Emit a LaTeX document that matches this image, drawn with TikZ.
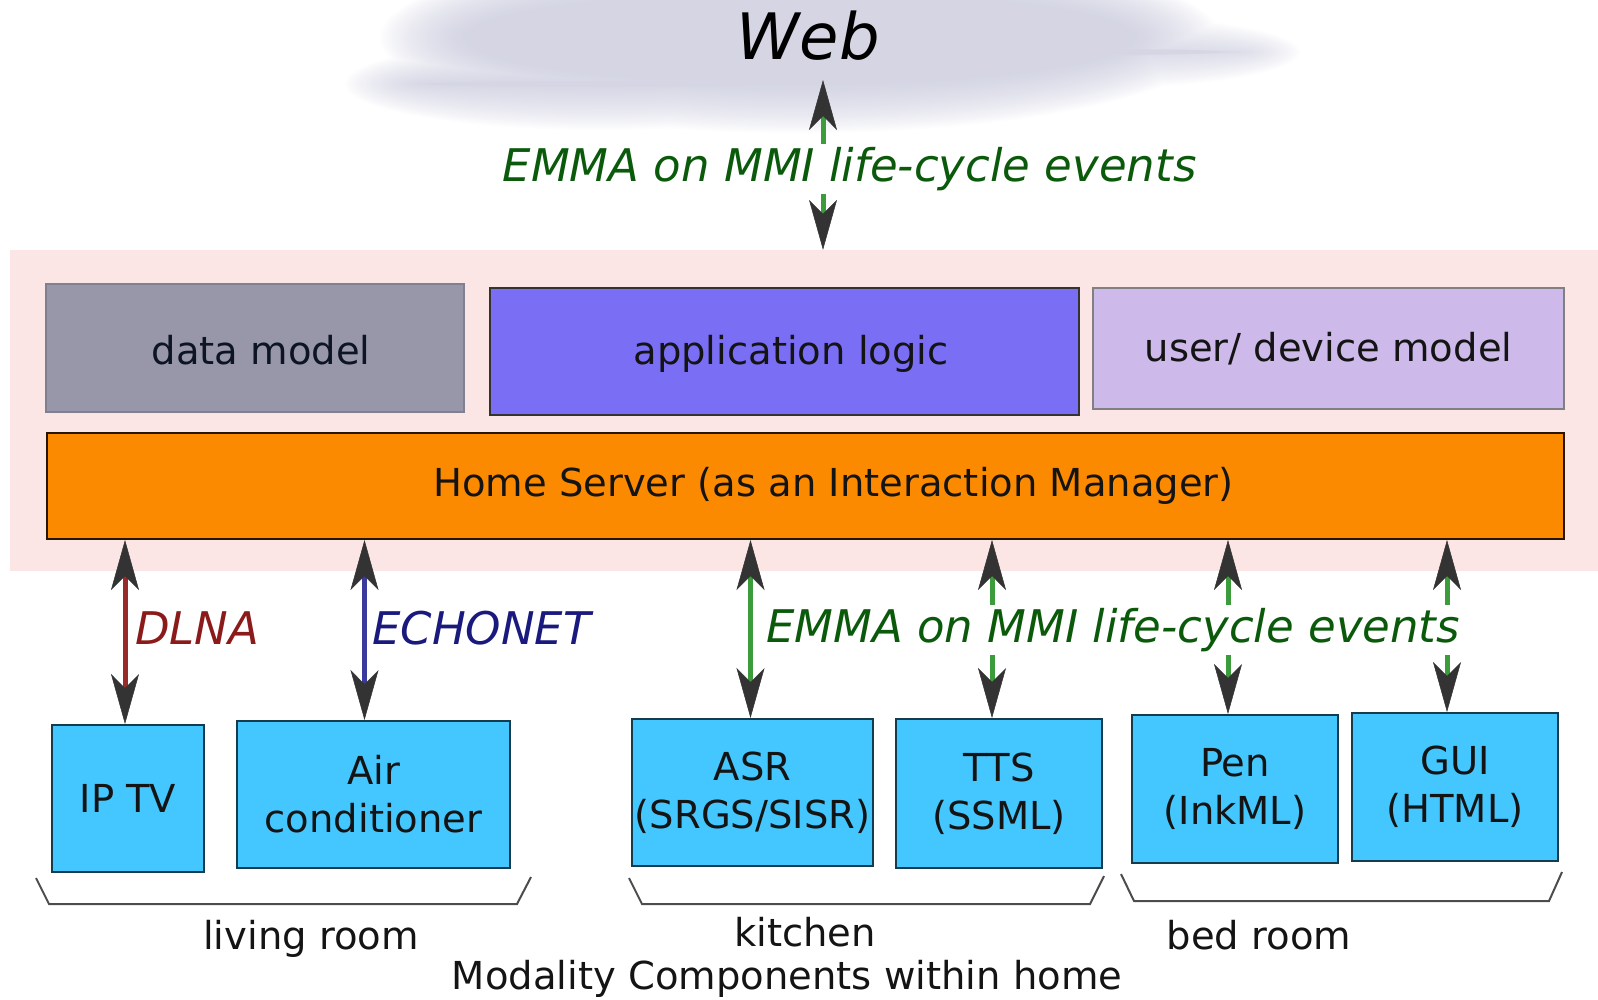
\documentclass[tikz,border=0pt]{standalone}
\usepackage{fontspec}
\setmainfont{DejaVu Sans}
\usetikzlibrary{arrows.meta}

\definecolor{bandpink}{HTML}{FCE5E5}
\definecolor{cloudtone}{HTML}{C5C6DA}
\definecolor{datagray}{HTML}{9797A9}
\definecolor{datatext}{HTML}{0D1525}
\definecolor{logicblue}{HTML}{7A6EF4}
\definecolor{userlilac}{HTML}{CDB9EA}
\definecolor{serverorange}{HTML}{FC8A00}
\definecolor{devicecyan}{HTML}{44C7FE}
\definecolor{headgray}{HTML}{333333}
\definecolor{emmagreen}{HTML}{3C9C3C}
\definecolor{emmatext}{HTML}{0B5A0B}
\definecolor{dlnared}{HTML}{982A2A}
\definecolor{dlnatext}{HTML}{8B1A1A}
\definecolor{echoblue}{HTML}{3A3A9C}
\definecolor{echotext}{HTML}{1A1A7E}

\tikzset{
  txt/.style={font=\fontsize{38.5}{48}\selectfont, text=black!92},
  block/.style={draw, line width=2pt, inner sep=0pt, align=center, txt},
  device/.style={block, fill=devicecyan, draw=black!70!devicecyan},
  bigtip/.tip={Stealth[length=50pt, width=28pt, inset=14pt, line width=0.5pt, color=headgray]},
  shaft/.style={line width=5pt},
  dlnaarrow/.style={shaft, draw=dlnared, bigtip-bigtip},
  echoarrow/.style={shaft, draw=echoblue, bigtip-bigtip},
  emmaarrow/.style={shaft, draw=emmagreen, bigtip-bigtip},
  emmahalf/.style={shaft, draw=emmagreen, -bigtip},
  protocol/.style={font=\fontsize{45}{54}\selectfont\itshape, inner sep=3pt},
  bracket/.style={line width=2pt, draw=black!70},
}

\begin{document}
\begin{tikzpicture}[x=1pt, y=-1pt]
\useasboundingbox (0,0) rectangle (1598,999);

% soft cloud behind the Web label: stacked translucent layers, each layer the
% union of three lobes shrinking step by step
\foreach \k in {0,...,29} {
  \pgfmathsetmacro{\ax}{420-\k*3}\pgfmathsetmacro{\ay}{95-\k*1.7}
  \pgfmathsetmacro{\bx}{255-\k*3}\pgfmathsetmacro{\by}{max(46-\k*1.7,3)}
  \pgfmathsetmacro{\cx}{205-\k*3}\pgfmathsetmacro{\cy}{max(36-\k*1.7,3)}
  \fill[cloudtone, opacity=0.042]
    (800,38) ellipse [x radius=\ax pt, y radius=\ay pt]
    (600,84) ellipse [x radius=\bx pt, y radius=\by pt]
    (1095,52) ellipse [x radius=\cx pt, y radius=\cy pt];
}

% home band
\node[fill=bandpink, inner sep=0pt, minimum width=1588pt, minimum height=321pt] (band) at (804,410.5) {};

% server-side components
\node[block, fill=datagray, draw=datagray!85!black, minimum width=418pt, minimum height=128pt,
      label={[txt, text=datatext, xshift=6pt, yshift=-2pt]center:data model}] (data) at (255,348) {};
\node[block, fill=logicblue, draw=black!80, minimum width=589pt, minimum height=127pt,
      label={[txt, xshift=6.5pt, yshift=-2.5pt]center:application logic}] (logic) at (784.5,351.5) {};
\node[block, fill=userlilac, draw=black!50, minimum width=471pt, minimum height=121pt] (user) at (1328.5,348.5) {user/ device model};
\node[block, fill=serverorange, draw=black!85!serverorange, minimum width=1517pt, minimum height=106pt,
      label={[txt, xshift=28pt]center:Home Server (as an Interaction Manager)}] (hs) at (805.5,486) {};

% modality components
\node[device, minimum width=152pt, minimum height=147pt] (iptv) at (128,798.5) {IP TV};
\node[device, minimum width=273pt, minimum height=147pt] (ac) at (373.5,794.5) {Air\\conditioner};
\node[device, minimum width=241pt, minimum height=147pt] (asr) at (752.5,792.5) {ASR\\(SRGS/SISR)};
\node[device, minimum width=206pt, minimum height=149pt] (tts) at (999,793.5) {TTS\\(SSML)};
\node[device, minimum width=206pt, minimum height=148pt] (pen) at (1235,789) {Pen\\(InkML)};
\node[device, minimum width=206pt, minimum height=148pt] (gui) at (1455,787) {GUI\\(HTML)};

% Web and its link
\node[font=\fontsize{64}{70}\selectfont\itshape, inner sep=0pt] (web) at (808,36) {Web};
\coordinate (webport) at (823,80);
\node[protocol, text=emmatext] (emmatop) at (849.5,169) {EMMA on MMI life-cycle events};
\draw[emmahalf] (webport |- emmatop.north) -- (webport);
\draw[emmahalf] (webport |- emmatop.south) -- (webport |- band.north);

% links to the modality components
\coordinate (pip) at ([xshift=-3pt]iptv.north);
\coordinate (pac) at ([xshift=-9pt]ac.north);
\coordinate (pasr) at ([xshift=-2pt]asr.north);
\coordinate (ptts) at ([xshift=-7pt]tts.north);
\coordinate (ppen) at ([xshift=-7pt]pen.north);
\coordinate (pgui) at ([xshift=-8pt]gui.north);

\node[protocol, text=dlnatext, anchor=west] (dlna) at (132,628) {DLNA};
\node[protocol, text=echotext, anchor=west] (echo) at (369,628) {ECHONET};
\node[protocol, text=emmatext] (emmabot) at (1113,630) {EMMA on MMI life-cycle events};

\draw[dlnaarrow] (pip |- hs.south) -- (pip);
\draw[echoarrow] (pac |- hs.south) -- (pac);
\draw[emmaarrow] (pasr |- hs.south) -- (pasr);
\foreach \p in {ptts, ppen, pgui} {
  \draw[emmahalf] (\p |- emmabot.north) -- (\p |- hs.south);
  \draw[emmahalf] (\p |- emmabot.south) -- (\p);
}

% room brackets
\draw[bracket] (36,878) -- (49,904) -- (517,904) -- (531,877);
\draw[bracket] (629,878) -- (642,904) -- (1090,904) -- (1104,876);
\draw[bracket] (1121,874) -- (1134,901) -- (1549,901) -- (1562,872);

\node[txt] (living) at (311,939) {living room};
\node[txt] (kitchen) at (805,932) {kitchen};
\node[txt] (bed) at (1259,935) {bed room};
\node[txt] (caption) at (787,979) {Modality Components within home};
\end{tikzpicture}
\end{document}
